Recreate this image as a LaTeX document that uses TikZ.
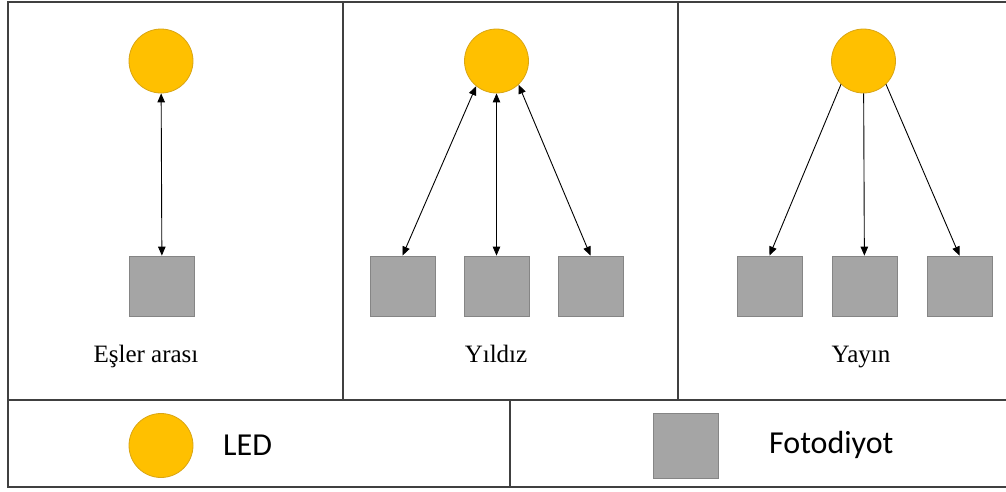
\documentclass[tikz,border=0pt]{standalone}
\usepackage{fontspec}
\setmainfont{Liberation Serif}
\newfontfamily\calib{Carlito}
\usetikzlibrary{arrows.meta}
\definecolor{ledfill}{HTML}{FFC000}
\definecolor{leddraw}{HTML}{D9A514}
\definecolor{pdfill}{HTML}{A5A5A5}
\definecolor{pddraw}{HTML}{858585}
\definecolor{framecol}{HTML}{404040}
\begin{document}
\begin{tikzpicture}[x=1pt,y=-1pt,
  led/.style={circle,fill=ledfill,draw=leddraw,line width=0.8pt,minimum size=64pt,inner sep=0pt},
  pd/.style={rectangle,fill=pdfill,draw=pddraw,line width=0.8pt,minimum width=65pt,minimum height=60pt,inner sep=0pt},
  frameline/.style={draw=framecol,line width=2pt},
  conntwo/.style={line width=0.9pt,{Triangle[length=9pt,width=7.5pt]}-{Triangle[length=9pt,width=7.5pt]}},
  connone/.style={line width=0.9pt,-{Triangle[length=9pt,width=7.5pt]}},
  lbl/.style={font=\fontsize{25}{28}\selectfont,inner sep=0pt,anchor=base},
  leg/.style={font=\calib\fontsize{32}{36}\selectfont,inner sep=0pt,anchor=west}]
\useasboundingbox (0,0) rectangle (1006,491);
% frames
\coordinate (tl) at (8,2);
\coordinate (tr) at (1006,2);
\coordinate (ml) at (8,400);
\coordinate (mr) at (1006,400);
\coordinate (bl) at (8,487);
\coordinate (br) at (1006,487);
\coordinate (d1t) at (343,2);
\coordinate (d1b) at (343,400);
\coordinate (d2t) at (678,2);
\coordinate (d2b) at (678,400);
\coordinate (d3t) at (510,400);
\coordinate (d3b) at (510,487);
\draw[frameline] (tr) -- (tl) -- (bl) -- (br);
\draw[frameline] (ml) -- (mr);
\draw[frameline] (d1t) -- (d1b);
\draw[frameline] (d2t) -- (d2b);
\draw[frameline] (d3t) -- (d3b);
% panel 1
\node[led] (led1) at (161,61) {};
\node[pd] (p1) at (162,286) {};
\draw[conntwo] (led1) -- (p1);
\node[lbl] (t1) at (146,362) {Eşler arası};
% panel 2
\node[led] (led2) at (496.5,61) {};
\node[pd] (p21) at (402.5,286) {};
\node[pd] (p22) at (496.5,286) {};
\node[pd] (p23) at (590.5,286) {};
\draw[conntwo] (led2.-129) -- (p21.north);
\draw[conntwo] (led2) -- (p22);
\draw[conntwo] (led2.-47) -- (p23.north);
\node[lbl] (t2) at (496,362) {Yıldız};
% panel 3
\node[led] (led3) at (863.5,61) {};
\node[pd] (p31) at (769.5,286) {};
\node[pd] (p32) at (864.5,286) {};
\node[pd] (p33) at (959.5,286) {};
\draw[connone] (led3.-134) -- (p31.north);
\draw[connone] (led3) -- (p32);
\draw[connone] (led3.-46) -- (p33.north);
\node[lbl] (t3) at (861,362) {Yayın};
% legend
\node[led] (lgled) at (161,445.5) {};
\node[leg] (lgledt) at (223,445) {LED};
\node[pd,minimum height=65pt] (lgpd) at (685.5,445.5) {};
\node[leg] (lgpdt) at (769,445) {Fotodiyot};
\end{tikzpicture}
\end{document}
